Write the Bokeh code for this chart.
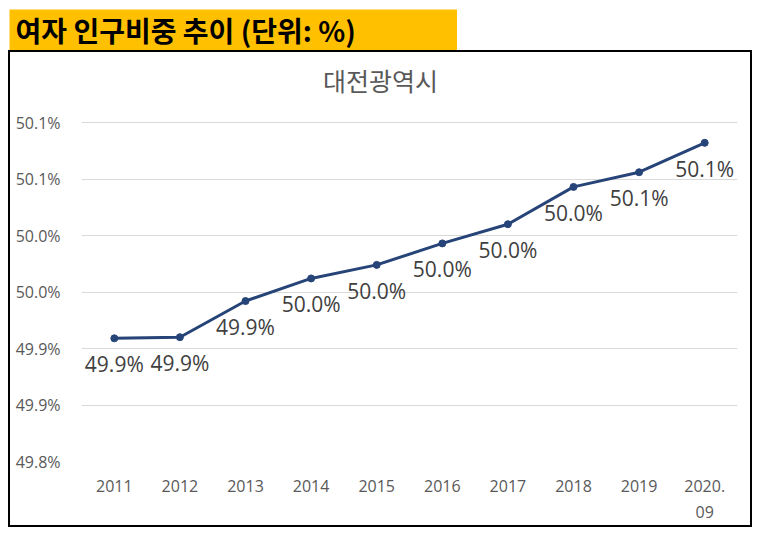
from bokeh.plotting import figure
from bokeh.layouts import column
from bokeh.models import FixedTicker, ColumnDataSource, Label, Range1d
from bokeh.core.properties import value
from bokeh.embed import file_html
from bokeh.resources import INLINE

# ---- data ----
years = ["2011", "2012", "2013", "2014", "2015", "2016", "2017", "2018", "2019", "2020.\n09"]
female_share = [49.909, 49.910, 49.942, 49.962, 49.974, 49.993, 50.010, 50.043, 50.056, 50.082]
point_labels = ["49.9%", "49.9%", "49.9%", "50.0%", "50.0%", "50.0%", "50.0%", "50.0%", "50.1%", "50.1%"]
y_ticks = [49.80, 49.85, 49.90, 49.95, 50.00, 50.05, 50.10]
y_tick_labels = ["49.8%", "49.9%", "49.9%", "50.0%", "50.0%", "50.1%", "50.1%"]
header_text = "여자 인구비중 추이 (단위: %)"
chart_title = "대전광역시"

KR = "Noto Sans CJK KR"
NUM = "Open Sans"

# ---- header bar ----
HW, HH = 448, 41
hdr = figure(width=HW, height=HH, x_range=(0, HW), y_range=(0, HH),
             x_axis_location=None, y_axis_location=None,
             output_backend="svg", toolbar_location=None,
             min_border=0, margin=(9, 0, 0, 9))
hdr.grid.visible = False
hdr.outline_line_color = None
hdr.background_fill_color = "#FFC000"
hdr.border_fill_color = "#FFC000"
hdr.text(x=[6], y=[20.5], text=[header_text], text_font=value(KR), text_font_style="bold",
         text_font_size="28px", text_color="black", text_align="left", text_baseline="middle")

# ---- main chart ----
W, H = 740, 473
PLOT_TOP, PLOT_H = 70, 339          # pixel rows of the value area inside the frame
y_min, y_max = y_ticks[0], y_ticks[-1]
head_room = (y_max - y_min) * PLOT_TOP / PLOT_H   # blank space above the value area for the title

xs = list(range(len(years)))
src = ColumnDataSource(dict(x=xs, y=female_share, lab=point_labels))

p = figure(width=W, height=H, x_range=(-0.5, len(years) - 0.5),
           y_range=Range1d(y_min, y_max + head_room),
           output_backend="svg", toolbar_location=None, margin=0,
           min_border_left=71, min_border_right=13, min_border_top=0, min_border_bottom=64)
p.outline_line_color = None
p.background_fill_color = "white"
p.border_fill_color = "white"

p.xaxis.ticker = FixedTicker(ticks=xs)
p.xaxis.major_label_overrides = {i: t for i, t in zip(xs, years)}
p.yaxis.ticker = FixedTicker(ticks=y_ticks)
p.yaxis.major_label_overrides = {t: l for t, l in zip(y_ticks, y_tick_labels)}
for ax in (p.xaxis[0], p.yaxis[0]):
    ax.axis_line_color = None
    ax.major_tick_line_color = None
    ax.minor_tick_line_color = None
    ax.major_label_text_color = "#595959"
    ax.major_label_text_font = NUM
p.xaxis.major_label_text_font_size = "16px"
p.yaxis.major_label_text_font_size = "16px"
p.xaxis.major_label_standoff = 7
p.yaxis.major_label_standoff = 15

p.xgrid.grid_line_color = None
p.ygrid.grid_line_color = "#D9D9D9"
p.ygrid.grid_line_width = 1

p.line("x", "y", source=src, line_color="#264478", line_width=3)
p.scatter("x", "y", source=src, size=7, fill_color="#264478", line_color="#264478")
p.text("x", "y", text="lab", source=src, text_align="center", text_baseline="middle",
       y_offset=26, text_font=value(NUM), text_font_size="21px", text_color="#404040")

# chart title (screen units are measured from the frame's bottom-left corner)
p.add_layout(Label(x=299, y=H - 64 - 27, x_units="screen", y_units="screen", text=chart_title,
                   text_font=KR, text_font_size="25px", text_color="#595959",
                   text_align="center", text_baseline="middle"))

body = column(p, styles={"border": "2px solid black"}, margin=(0, 0, 0, 8))
layout = column(hdr, body, spacing=0)
open("out.html", "w").write(file_html(layout, INLINE))
